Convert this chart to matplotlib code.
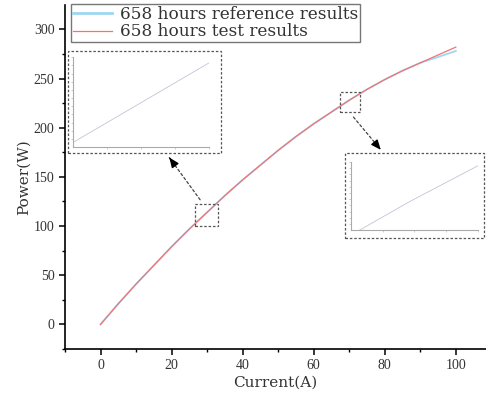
import numpy as np
import matplotlib.pyplot as plt
from matplotlib.patches import Rectangle

# values
current = [0, 5, 10, 15, 20, 25, 30, 35, 40, 45, 50, 55, 60, 65, 70, 75, 80, 85, 90, 95, 100]
power_ref = [0, 21, 41, 60, 79, 97, 114, 131, 147, 162, 177, 191, 204, 216, 228, 239, 249, 258, 266, 272, 278]
power_test = [0, 21, 41, 60, 79, 97, 114, 131, 147, 162, 177, 191, 204, 216, 228, 239, 249, 258, 266, 274, 282]
labels = ["658 hours reference results", "658 hours test results"]

zoom1 = (26.5, 33.0, 100.0, 122.4)   # xmin, xmax, ymin, ymax
zoom2 = (67.3, 73.0, 216.3, 236.7)

c_ref = "#9fd6f2"
c_test = "#f07474"
txtfont = "DejaVu Serif"
serif = "Liberation Serif"

fig = plt.figure(figsize=(4.86, 4.03), dpi=100)
ax = fig.add_axes([0.1337, 0.134, 0.8663, 0.854])

ax.plot(current, power_ref, color=c_ref, lw=1.3, label=labels[0])
ax.plot(current, power_test, color=c_test, lw=0.9, label=labels[1])

ax.set_xlim(-10, 108.5)
ax.set_ylim(-25, 325)
ax.set_xticks(np.arange(0, 101, 20))
ax.set_xticks(np.arange(-10, 108, 10), minor=True)
ax.set_yticks(np.arange(0, 301, 50))
ax.set_yticks(np.arange(-25, 325, 25), minor=True)
ax.tick_params(which="major", direction="out", length=4, width=1.1, labelsize=10,
               labelcolor="#333333")
ax.tick_params(which="minor", direction="out", length=2.5, width=1.0)
for lab in ax.get_xticklabels() + ax.get_yticklabels():
    lab.set_family(serif)
ax.spines["top"].set_visible(False)
ax.spines["right"].set_visible(False)
ax.spines["left"].set_linewidth(1.2)
ax.spines["bottom"].set_linewidth(1.2)
ax.set_xlabel("Current(A)", family=txtfont, fontsize=11, color="#333333", labelpad=2)
ax.set_ylabel("Power(W)", family=txtfont, fontsize=11, color="#333333", labelpad=2)

leg = ax.legend(loc="upper left", bbox_to_anchor=(0.003, 1.016), prop={"family": txtfont, "size": 12.2},
                frameon=True, fancybox=False, edgecolor="#555555", handlelength=2.3,
                handletextpad=0.5, borderpad=0.1, labelspacing=0.02, borderaxespad=0.3)
leg.get_frame().set_linewidth(1.0)
leg.get_lines()[0].set_linewidth(2.0)
for t in leg.get_texts():
    t.set_color("#333333")

# zoom boxes on the main plot
for z in (zoom1, zoom2):
    ax.add_patch(Rectangle((z[0], z[2]), z[1] - z[0], z[3] - z[2], fill=False,
                           ls=(0, (2, 1.5)), lw=0.9, ec="#555555", zorder=5))

# dashed outer frames for the insets (figure coords)
frames = [(0.140, 0.620, 0.315, 0.253), (0.710, 0.409, 0.286, 0.211)]
for f in frames:
    fig.add_artist(Rectangle((f[0], f[1]), f[2], f[3], transform=fig.transFigure, fill=False,
                             ls=(0, (2, 1.5)), lw=0.9, ec="#555555"))

insets = [([0.150, 0.635, 0.280, 0.223], (26.5, 33.2, 100.8, 126.5)),
          ([0.722, 0.429, 0.261, 0.169], (67.3, 73.2, 222.5, 235.8))]
for pos, lim in insets:
    ia = fig.add_axes(pos)
    ia.plot(current, power_ref, color=c_ref, lw=0.6, alpha=0.7)
    ia.plot(current, power_test, color=c_test, lw=0.4, alpha=0.35)
    ia.set_xlim(lim[0], lim[1])
    ia.set_ylim(lim[2], lim[3])
    ia.set_xticks(np.linspace(lim[0], lim[1], 5)[1:])
    ia.set_yticks(np.linspace(lim[2], lim[3], 12)[1:])
    ia.tick_params(length=1.5, width=0.4, color="#aaaaaa", labelleft=False, labelbottom=False)
    ia.spines["top"].set_visible(False)
    ia.spines["right"].set_visible(False)
    for s in ("left", "bottom"):
        ia.spines[s].set_color("#aaaaaa")
        ia.spines[s].set_linewidth(0.8)
    ia.patch.set_alpha(0)

# arrows from zoom boxes to insets
arrows = [((28.5, 124.5), (18.9, 172.0)), ((70.7, 213.0), (78.9, 177.5))]
for start, end in arrows:
    ax.annotate("", xy=end, xytext=start,
                arrowprops=dict(arrowstyle="-", ls=(0, (2, 2)), lw=0.9, color="#444444"))
    d = np.array(end) - np.array(start)
    ax.annotate("", xy=end, xytext=(end[0] - d[0] * 0.12, end[1] - d[1] * 0.12),
                arrowprops=dict(arrowstyle="-|>,head_length=0.6,head_width=0.25", lw=0.9,
                                color="black"))

fig.savefig("out.png", dpi=100)
